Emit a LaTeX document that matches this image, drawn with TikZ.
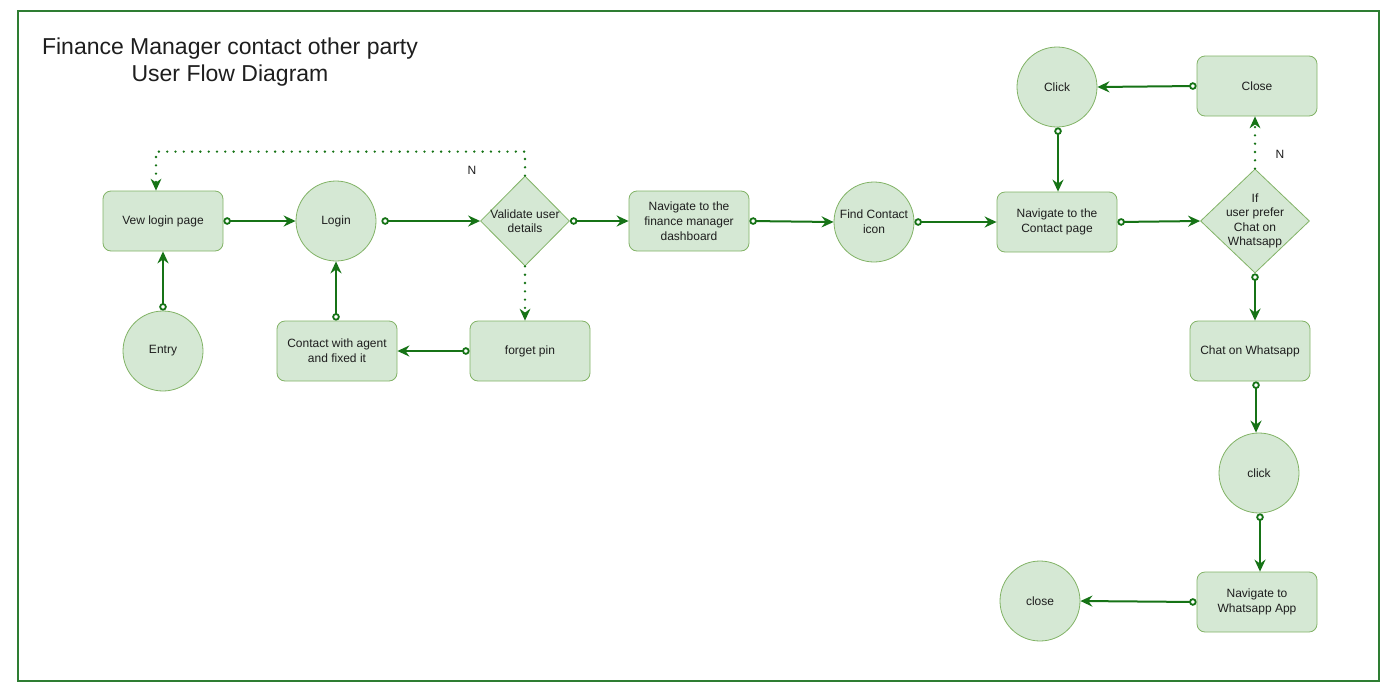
\documentclass[tikz,border=0pt]{standalone}
\usepackage{fontspec}
\setmainfont{Liberation Sans}
\usetikzlibrary{shapes.geometric,arrows.meta}
\definecolor{boxfill}{HTML}{D5E8D4}
\definecolor{boxline}{HTML}{82B366}
\definecolor{edgecol}{HTML}{167316}
\definecolor{framecol}{HTML}{2E7D32}
\definecolor{txtcol}{HTML}{1E1E1E}
\tikzset{
  x=1pt, y=-1pt,
  base/.style={draw=boxline, fill=boxfill, line width=0.8pt, text=txtcol,
    font=\fontsize{12}{15}\selectfont, align=center, inner sep=0pt},
  box/.style={base, rectangle, rounded corners=8pt, minimum width=120pt, minimum height=60pt},
  circ/.style={base, circle, minimum size=80pt},
  txt/.style={text=txtcol, font=\fontsize{12}{14.5}\selectfont, align=center, inner sep=0pt},
  flow/.style={draw=edgecol, line width=2pt,
    arrows={Circle[open, length=7.5pt, width=7.5pt, fill=white, line width=1.8pt]-Stealth[length=12pt, width=11pt, inset=4pt]}},
  dotflow/.style={draw=edgecol, line width=2.6pt, line cap=round, dash pattern=on 0pt off 8.3pt,
    arrows={-Stealth[length=12pt, width=11pt, inset=4pt, line width=0pt]}},
}
\begin{document}
\begin{tikzpicture}
\useasboundingbox[fill=white] (0,0) rectangle (1390,694);
\draw[framecol, line width=2pt] (18,11) rectangle (1379,681);
\node[text=txtcol, font=\fontsize{23}{27}\selectfont, align=center] (title) at (230,62)
  {Finance Manager contact other party\\User Flow Diagram};

% nodes
\node[box] (vew) at (163,221) {Vew login page};
\node[circ] (entry) at (163,351) {Entry};
\node[circ] (login) at (336,221) {Login};
\node[base, diamond, minimum width=89pt, minimum height=90pt] (val) at (525,221) {};
\node[txt] at (val) {Validate user\\details};
\node[box] (forget) at (530,351) {forget pin};
\node[box] (agent) at (337,351) {Contact with agent\\and fixed it};
\node[box] (dash) at (689,221) {Navigate to the\\finance manager\\dashboard};
\node[circ] (find) at (874,222) {Find Contact\\icon};
\node[box] (contact) at (1057,222) {Navigate to the\\Contact page};
\node[circ] (clickA) at (1057,87) {Click};
\node[box] (closeA) at (1257,86) {Close};
\node[base, diamond, minimum width=109pt, minimum height=104pt] (ifw) at (1255,221) {};
\node[txt, font=\fontsize{12}{14.3}\selectfont] at (ifw) {If\\user prefer\\Chat on\\Whatsapp};
\node[box] (chat) at (1250,351) {Chat on Whatsapp};
\node[circ] (clickB) at (1259,473) {click};
\node[box] (wapp) at (1257,602) {Navigate to\\Whatsapp App};
\node[circ] (closeB) at (1040,601) {close};

% labels
\node[txt] (n1) at (472,170) {N};
\node[txt] (n2) at (1280,154) {N};

% connectors
\draw[flow] (vew.east) -- (login.west);
\draw[flow] (entry.north) -- (vew.south);
\draw[flow] ([xshift=5pt]login.east) -- (val.west);
\draw[flow] (val.east) -- (dash.west);
\draw[dotflow] (val.south) -- (val.south |- forget.north);
\draw[dotflow] (val.north) -- ++(0,-24) -| ([xshift=-7pt]vew.north);
\draw[flow] (forget.west) -- (agent.east);
\draw[flow] (agent.north -| login.south) -- (login.south);
\draw[flow] (dash.east) -- (find.west);
\draw[flow] (find.east) -- (contact.west);
\draw[flow] (contact.east) -- (ifw.west);
\draw[dotflow] (ifw.north) -- (ifw.north |- closeA.south);
\draw[flow] (closeA.west) -- (clickA.east);
\draw[flow] ([xshift=1pt]clickA.south) -- ([xshift=1pt]clickA.south |- contact.north);
\draw[flow] (ifw.south) -- (ifw.south |- chat.north);
\draw[flow] ([xshift=6pt]chat.south) -- ([xshift=6pt]chat.south |- clickB.north);
\draw[flow] ([xshift=1pt]clickB.south) -- ([xshift=1pt]clickB.south |- wapp.north);
\draw[flow] (wapp.west) -- (closeB.east);
\end{tikzpicture}
\end{document}
